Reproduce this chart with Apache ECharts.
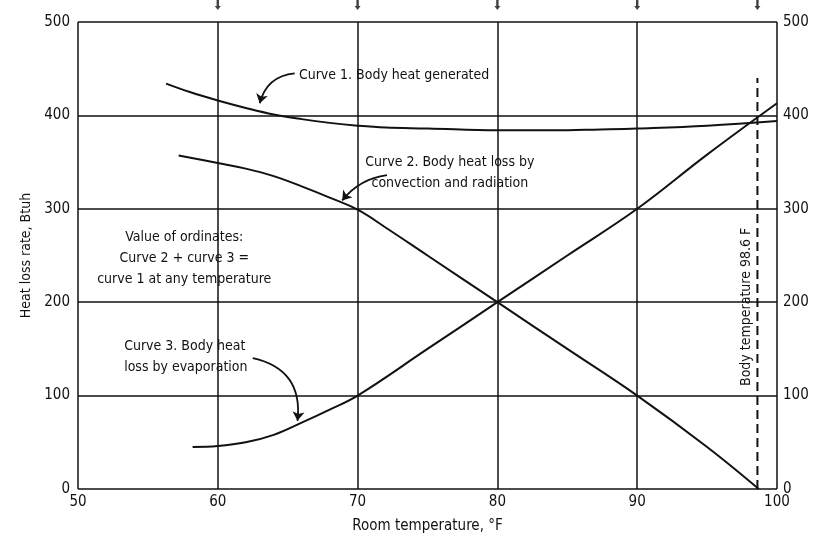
<!DOCTYPE html>
<html><head><meta charset="utf-8">
<script src="https://cdn.jsdelivr.net/npm/echarts@6/dist/echarts.min.js"></script>
<style>html,body{margin:0;padding:0;background:#fff}#c{width:814px;height:542px}</style>
</head><body><div id="c"></div>
<script>
// ---- data ----
const xTicks = [50, 60, 70, 80, 90, 100];
const yTicks = [0, 100, 200, 300, 400, 500];
const curve1X = [56.3, 58, 60, 62, 64, 66, 68, 70, 72, 75, 80, 84, 87.4, 90, 95, 100];
const curve1Y = [434, 425, 416, 408, 401, 396, 392, 389, 387, 386, 384, 384, 385, 386, 389, 394];
const curve2X = [57.2, 60, 62, 64, 66, 68, 70, 72, 75, 80, 85, 90, 95, 98.7];
const curve2Y = [357, 349, 343, 335, 324, 312, 299, 280, 250, 200, 150, 100, 45, 0];
const curve3X = [58.2, 60, 62, 64, 66, 68, 70, 75, 80, 85, 90, 95, 100];
const curve3Y = [45, 46, 50, 58, 71, 85, 100, 150, 200, 250, 300, 358, 413];
const bodyTempX = [98.6, 98.6];
const bodyTempY = [0, 440];
const topTickX = [60, 70, 80, 90, 98.6];
const topTickY = [500, 500, 500, 500, 500];
const FONT = "'Liberation Sans Narrow','DejaVu Sans Condensed',sans-serif";

const zip = (xs, ys) => xs.map((x, i) => [x, ys[i]]);

// annotation text blocks: [x, y] in data units, text, alignment
const notes = [
  {at: [65.8, 443], text: 'Curve 1. Body heat generated', align: 'left'},
  {at: [76.6, 339], text: 'Curve 2. Body heat loss by\nconvection and radiation', align: 'center'},
  {at: [57.6, 247], text: 'Value of ordinates:\nCurve 2 + curve 3 =\ncurve 1 at any temperature', align: 'center'},
  {at: [53.3, 141], text: 'Curve 3. Body heat\nloss by evaporation', align: 'left'}
];
const arrows = [
  {from: [65.5, 445], to: [63.0, 413], curve: -0.35},
  {from: [72.1, 336], to: [68.9, 309], curve: -0.2},
  {from: [62.5, 140], to: [65.7, 73], curve: 0.45}
];

const chart = echarts.init(document.getElementById('c'));
const black = '#111';
const option = {
  animation: false,
  backgroundColor: '#fff',
  grid: {left: 78, right: 37, top: 22, bottom: 53},
  xAxis: [{
    type: 'value', min: 50, max: 100, interval: 10,
    name: 'Room temperature, °F', nameLocation: 'middle', nameGap: 30,
    nameTextStyle: {fontSize: 15, color: black, fontFamily: FONT},
    axisLine: {show: false}, axisTick: {show: false},
    axisLabel: {fontSize: 15, color: black, fontFamily: FONT, margin: 6},
    splitLine: {show: true, lineStyle: {color: black, width: 1.5}}
  }],
  yAxis: [{
    type: 'value', min: 0, max: 500, interval: 100,
    name: 'Heat loss rate, Btuh', nameLocation: 'middle', nameGap: 41,
    nameTextStyle: {fontSize: 14, color: black, fontFamily: FONT},
    axisLine: {show: false}, axisTick: {show: false},
    axisLabel: {fontSize: 15, color: black, fontFamily: FONT, margin: 8},
    splitLine: {show: true, lineStyle: {color: black, width: 1.5}}
  }, {
    type: 'value', min: 0, max: 500, interval: 100, position: 'right',
    axisLine: {show: false}, axisTick: {show: false},
    axisLabel: {fontSize: 15, color: black, fontFamily: FONT, margin: 6},
    splitLine: {show: false}
  }],
  series: [
    {type: 'line', data: zip(curve1X, curve1Y), smooth: 0.4, showSymbol: false, lineStyle: {color: black, width: 2}},
    {type: 'line', data: zip(curve2X, curve2Y), smooth: 0.4, showSymbol: false, lineStyle: {color: black, width: 2}},
    {type: 'line', data: zip(curve3X, curve3Y), smooth: 0.4, showSymbol: false, lineStyle: {color: black, width: 2}},
    {type: 'line', data: zip(bodyTempX, bodyTempY), showSymbol: false, lineStyle: {color: black, width: 2, type: [9, 5]}},
    {type: 'lines', coordinateSystem: 'cartesian2d', symbol: ['none', 'arrow'], symbolSize: 9,
     lineStyle: {color: black, width: 1.8, opacity: 1},
     data: arrows.map(a => ({coords: [a.from, a.to], lineStyle: {curveness: a.curve}}))},
    {type: 'scatter', clip: false, data: zip(topTickX, topTickY), silent: true,
     symbol: 'path://M-0.8,0 L0.8,0 L0.8,6 L2,6 L0,10 L-2,6 L-0.8,6 Z', symbolKeepAspect: false,
     symbolSize: [6, 10], symbolOffset: [0, -17], itemStyle: {color: black}}
  ]
};
chart.setOption(option);

const graphics = notes.map(n => {
  const p = chart.convertToPixel({gridIndex: 0}, n.at);
  return {type: 'text', x: p[0], y: p[1], style: {text: n.text, fill: black, font: '14px ' + FONT,
    align: n.align, verticalAlign: 'middle', lineHeight: 21}};
});
const bp = chart.convertToPixel({gridIndex: 0}, [97.8, 195]);
graphics.push({type: 'text', x: bp[0], y: bp[1], rotation: Math.PI / 2,
  style: {text: 'Body temperature 98.6 F', fill: black, font: '14px ' + FONT, align: 'center', verticalAlign: 'middle'}});
chart.setOption({graphic: graphics});
</script></body></html>
